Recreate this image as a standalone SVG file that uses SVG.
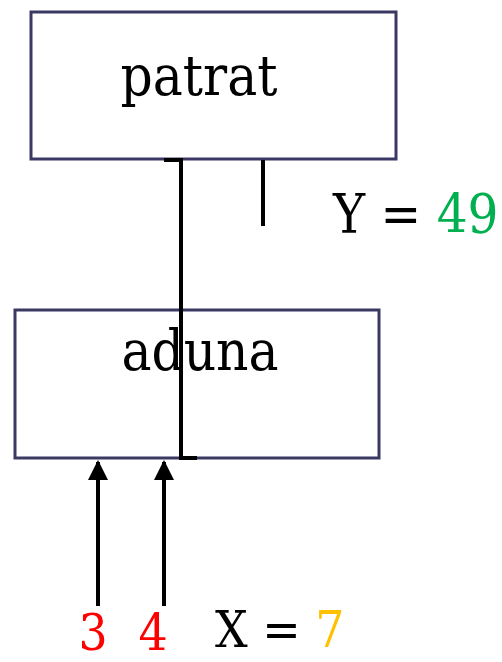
<svg xmlns="http://www.w3.org/2000/svg" width="502" height="662" viewBox="0 0 502 662">
<style>
.box{fill:#fff;stroke:#3b3864;stroke-width:3}
.ln{fill:none;stroke:#000;stroke-width:4}
.t{font-family:"DejaVu Serif Condensed","DejaVu Serif",serif;font-stretch:condensed;font-size:56px;fill:#000}
.y{font-size:54px}
.s{font-size:51px}
.r{fill:#ff0000}
.g{fill:#00b050}
.o{fill:#ffc000}
</style>
<defs>
<marker id="ah" markerWidth="5" markerHeight="5" refX="4.5" refY="2.5" orient="auto" markerUnits="strokeWidth">
<path d="M0,0 L5,2.5 L0,5 Z" fill="#000"/>
</marker>
</defs>
<g id="patrat">
<rect class="box" x="31" y="12" width="365" height="147"/>
<text class="t" x="199" y="95" text-anchor="middle">patrat</text>
</g>
<g id="aduna">
<rect class="box" x="15" y="310" width="364" height="148"/>
<text class="t" x="200" y="370" text-anchor="middle">aduna</text>
</g>
<g id="connectors">
<path class="ln" d="M164,160 H181 V458 H197"/>
<line class="ln" x1="263" y1="160" x2="263" y2="226"/>
<line class="ln" x1="98" y1="606" x2="98" y2="462" marker-end="url(#ah)"/>
<line class="ln" x1="164" y1="606" x2="164" y2="462" marker-end="url(#ah)"/>
</g>
<g id="labels">
<text class="t y" x="333" y="233">Y = <tspan class="g">49</tspan></text>
<text class="t s r" x="93" y="650" text-anchor="middle">3</text>
<text class="t s r" x="153" y="650" text-anchor="middle">4</text>
<text class="t s" x="215" y="647">X = <tspan class="o">7</tspan></text>
</g>
</svg>
